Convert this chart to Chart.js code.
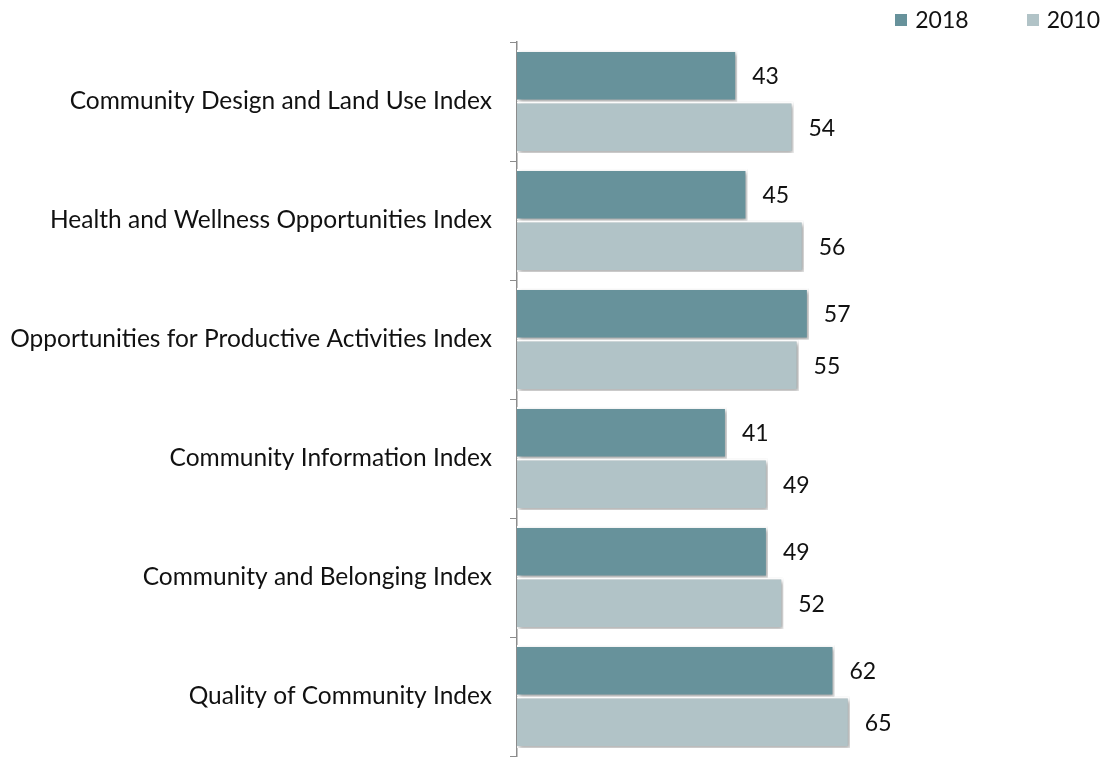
<!DOCTYPE html>
<html>
<head>
<meta charset="utf-8">
<script src="https://cdn.jsdelivr.net/npm/chart.js@4/dist/chart.umd.min.js"></script>
<style>
  body { margin: 0; background: #fff; font-family: Lato, "Open Sans", sans-serif; }
  #wrap { position: relative; width: 1110px; height: 759px; }
  #barChart { display: block; }
  #legend { position: absolute; top: 5px; right: 10px; font-size: 23px; color: #111; }
  #legend span.item { display: inline-block; margin-left: 58px; }
  #legend span.box { display: inline-block; width: 12px; height: 12px; margin-right: 8px; vertical-align: 2px; }
</style>
</head>
<body>
<div id="wrap">
  <canvas id="barChart" width="1110" height="759"></canvas>
  <div id="legend"></div>
</div>
<script>
    // categories and values
    var categories = [
        'Community Design and Land Use Index',
        'Health and Wellness Opportunities Index',
        'Opportunities for Productive Activities Index',
        'Community Information Index',
        'Community and Belonging Index',
        'Quality of Community Index'
    ];
    var values2018 = [43, 45, 57, 41, 49, 62];
    var values2010 = [54, 56, 55, 49, 52, 65];
    var seriesNames = ['2018', '2010'];
    var seriesColors = ['#67929b', '#b1c3c7'];

    // legend (html)
    var legendHtml = '';
    for (var i = 0; i < seriesNames.length; i++) {
        legendHtml += '<span class="item"><span class="box" style="background:' + seriesColors[i] + '"></span>' + seriesNames[i] + '</span>';
    }
    document.getElementById('legend').innerHTML = legendHtml;

    /** shadow under bars */
    var shadowPlugin = {
        id: 'barShadow',
        beforeDatasetDraw: function (chart) {
            var ctx = chart.ctx;
            ctx.save();
            ctx.shadowColor = 'rgba(0,0,0,0.35)';
            ctx.shadowBlur = 4;
            ctx.shadowOffsetX = 2;
            ctx.shadowOffsetY = 2;
        },
        afterDatasetDraw: function (chart) {
            chart.ctx.restore();
        }
    };

    /** value labels */
    var valueLabels = {
        id: 'valueLabels',
        afterDatasetsDraw: function (chart) {
            var ctx = chart.ctx;
            ctx.save();
            ctx.font = '23px Lato, "Open Sans", sans-serif';
            ctx.fillStyle = '#111';
            ctx.textAlign = 'left';
            ctx.textBaseline = 'middle';
            chart.data.datasets.forEach(function (ds, di) {
                var meta = chart.getDatasetMeta(di);
                meta.data.forEach(function (bar, j) {
                    ctx.fillText(ds.data[j], bar.x + 15, bar.y + 1);
                });
            });
            ctx.restore();
        }
    };

    var ctx = document.getElementById('barChart').getContext('2d');
    new Chart(ctx, {
        type: 'bar',
        data: {
            labels: categories,
            datasets: [
                {
                    label: seriesNames[0],
                    data: values2018,
                    backgroundColor: seriesColors[0],
                    borderColor: '#ffffff',
                    borderWidth: 2,
                    borderSkipped: 'start'
                },
                {
                    label: seriesNames[1],
                    data: values2010,
                    backgroundColor: seriesColors[1],
                    borderColor: '#ffffff',
                    borderWidth: 2,
                    borderSkipped: 'start'
                }
            ]
        },
        options: {
            indexAxis: 'y',
            responsive: false,
            animation: false,
            categoryPercentage: 0.865,
            barPercentage: 1.0,
            layout: { padding: { top: 42, bottom: 3, left: 0, right: 81 } },
            plugins: {
                legend: { display: false },
                tooltip: { enabled: false }
            },
            scales: {
                x: {
                    display: false,
                    min: 0,
                    max: 100
                },
                y: {
                    offset: true,
                    grid: {
                        offset: true,
                        drawOnChartArea: false,
                        drawTicks: true,
                        tickLength: 7,
                        color: '#8c8c8c'
                    },
                    border: { display: true, color: '#8c8c8c', width: 1.5 },
                    ticks: {
                        padding: 18,
                        color: '#111',
                        font: { family: 'Lato, "Open Sans", sans-serif', size: 24.5 }
                    },
                    afterFit: function (scale) {
                        scale.width = 517;
                        scale.paddingTop = 0;
                        scale.paddingBottom = 0;
                    }
                }
            }
        },
        plugins: [shadowPlugin, valueLabels]
    });
</script>
</body>
</html>
